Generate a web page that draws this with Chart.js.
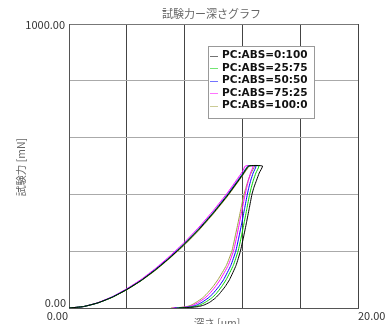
<!DOCTYPE html>
<html><head><meta charset="utf-8">
<script src="https://cdn.jsdelivr.net/npm/chart.js@4"></script>
<style>html,body{margin:0;padding:0;background:#fff}</style>
</head><body>
<canvas id="c" width="390" height="324"></canvas>
<script>
const titleText = '試験力ー深さグラフ';
const xTitle = '深さ [um]';
const yTitle = '試験力 [mN]';
const xMin = 0, xMax = 20, yMin = 0, yMax = 1000;
const xTickLabels = ['0.00', '20.00'];
const yTickLabels = ['0.00', '1000.00'];
const seriesNames = ['PC:ABS=0:100', 'PC:ABS=25:75', 'PC:ABS=50:50', 'PC:ABS=75:25', 'PC:ABS=100:0'];
const seriesColors = ['#000000', '#00d000', '#0000ff', '#ff00ff', '#a0a040'];

// force [mN] levels: loading (at depths below) then peak, then unloading levels
const loadDepths   = [0,1,2,3,4,5,6,7,8,9,10,11,12];
const unloadForces = [500,475,450,425,400,350,300,250,200,150,100,75,50,35,20,10,5,2,0];

// loading force per series at loadDepths, then the depth where 500 mN is reached
const load_0_100  = [0,5,18,38,65,97,135,178,225,277,335,398,468];
const load_25_75  = [0,5,18,38,65,97,135,178,226,278,336,399,469];
const load_50_50  = [0,5,18,39,66,98,137,180,228,280,338,402,472];
const load_75_25  = [0,5,19,40,68,101,140,184,232,285,344,408,480];
const load_100_0  = [0,5,18,38,64,96,133,176,222,274,332,395,465];
const peakDepths  = [12.45, 12.42, 12.38, 12.2, 12.5];

// unloading depth per series at unloadForces
const unload_0_100 = [13.39,13.16,12.98,12.8,12.66,12.47,12.28,12.08,11.86,11.56,11.11,10.8,10.41,10.13,9.73,9.32,8.95,8.4,7.6];
const unload_25_75 = [13.14,12.93,12.76,12.62,12.5,12.31,12.12,11.92,11.7,11.37,10.88,10.56,10.18,9.87,9.43,9.04,8.7,8.2,7.45];
const unload_50_50 = [12.94,12.74,12.58,12.45,12.34,12.15,11.96,11.76,11.54,11.2,10.7,10.36,9.95,9.63,9.2,8.82,8.5,8.0,7.3];
const unload_75_25 = [12.74,12.56,12.42,12.3,12.19,11.99,11.8,11.6,11.38,11.02,10.47,10.13,9.72,9.4,8.97,8.6,8.3,7.8,7.15];
const unload_100_0 = [12.84,12.6,12.4,12.25,12.11,11.9,11.7,11.49,11.27,10.89,10.31,9.96,9.54,9.23,8.8,8.45,8.15,7.7,7.05];

const loads = [load_0_100, load_25_75, load_50_50, load_75_25, load_100_0];
const unloads = [unload_0_100, unload_25_75, unload_50_50, unload_75_25, unload_100_0];

const datasets = seriesNames.map((name, i) => {
  const pts = loadDepths.map((d, j) => ({x: d, y: loads[i][j]}));
  pts.push({x: peakDepths[i], y: unloadForces[0]});
  unloads[i].forEach((d, j) => pts.push({x: d, y: unloadForces[j]}));
  return {
    label: name,
    data: pts,
    showLine: true,
    borderColor: seriesColors[i],
    backgroundColor: seriesColors[i],
    borderWidth: 1,
    pointRadius: 0,
    tension: 0.15,
    fill: false
  };
});

const textPlugin = {
  id: 'textPlugin',
  afterDraw(chart) {
    const ctx = chart.ctx;
    const xs = chart.scales.x, ys = chart.scales.y;
    const ca = chart.chartArea;
    ctx.save();
    ctx.font = '11px "Noto Sans CJK JP"';
    ctx.fillStyle = '#666';
    ctx.textAlign = 'center';
    ctx.textBaseline = 'middle';
    ctx.fillText(titleText, (ca.left + ca.right) / 2 - 2, 14);
    ctx.font = '11px "Noto Sans CJK JP"';
    ctx.fillStyle = '#333';
    ctx.textAlign = 'right';
    ctx.fillText(yTickLabels[1], xs.getPixelForValue(xMin) - 4, ys.getPixelForValue(yMax) + 1);
    ctx.fillText(yTickLabels[0], xs.getPixelForValue(xMin) - 3, ys.getPixelForValue(yMin) - 5);
    ctx.fillText(xTickLabels[0], xs.getPixelForValue(xMin) - 1, ys.getPixelForValue(yMin) + 8);
    ctx.textAlign = 'left';
    ctx.fillText(xTickLabels[1], xs.getPixelForValue(xMax), ys.getPixelForValue(yMin) + 8);
    ctx.fillStyle = '#666';
    ctx.font = '10.5px "Noto Sans CJK JP"';
    ctx.textAlign = 'center';
    ctx.textBaseline = 'top';
    ctx.fillText(xTitle, 217, 318);
    ctx.save();
    ctx.translate(21.5, 167);
    ctx.rotate(-Math.PI / 2);
    ctx.textBaseline = 'middle';
    ctx.fillText(yTitle, 0, 0);
    ctx.restore();
    const bx = 208.5, by = 46.5, bw = 106, bh = 72;
    ctx.fillStyle = '#fff';
    ctx.fillRect(bx, by, bw, bh);
    ctx.strokeStyle = '#999';
    ctx.lineWidth = 1;
    ctx.strokeRect(bx, by, bw, bh);
    ctx.font = 'bold 10.5px "DejaVu Sans"';
    ctx.textAlign = 'left';
    ctx.textBaseline = 'middle';
    seriesNames.forEach((n, i) => {
      const yy = 55.5 + i * 12.5;
      ctx.globalAlpha = 0.55;
      ctx.strokeStyle = seriesColors[i];
      ctx.beginPath();
      ctx.moveTo(210, Math.round(yy) + 0.5);
      ctx.lineTo(218, Math.round(yy) + 0.5);
      ctx.stroke();
      ctx.globalAlpha = 1;
      ctx.fillStyle = '#111';
      ctx.fillText(n, 222, yy);
    });
    ctx.restore();
  }
};

new Chart(document.getElementById('c'), {
  type: 'scatter',
  data: { datasets },
  options: {
    responsive: false,
    animation: false,
    layout: { padding: { left: 69, right: 32, top: 24, bottom: 16 } },
    plugins: { legend: { display: false }, title: { display: false }, tooltip: { enabled: false } },
    scales: {
      x: {
        type: 'linear', min: xMin, max: xMax,
        ticks: { display: false, stepSize: 4 },
        grid: { color: '#444', drawTicks: false, lineWidth: 1 },
        border: { color: '#555' }
      },
      y: {
        type: 'linear', min: yMin, max: yMax,
        ticks: { display: false, stepSize: 200 },
        grid: { color: (c) => (c.tick && c.tick.value === yMax) ? '#777' : '#aaa', drawTicks: false, lineWidth: 1 },
        border: { color: '#555' }
      }
    }
  },
  plugins: [textPlugin]
});
</script>
</body></html>
